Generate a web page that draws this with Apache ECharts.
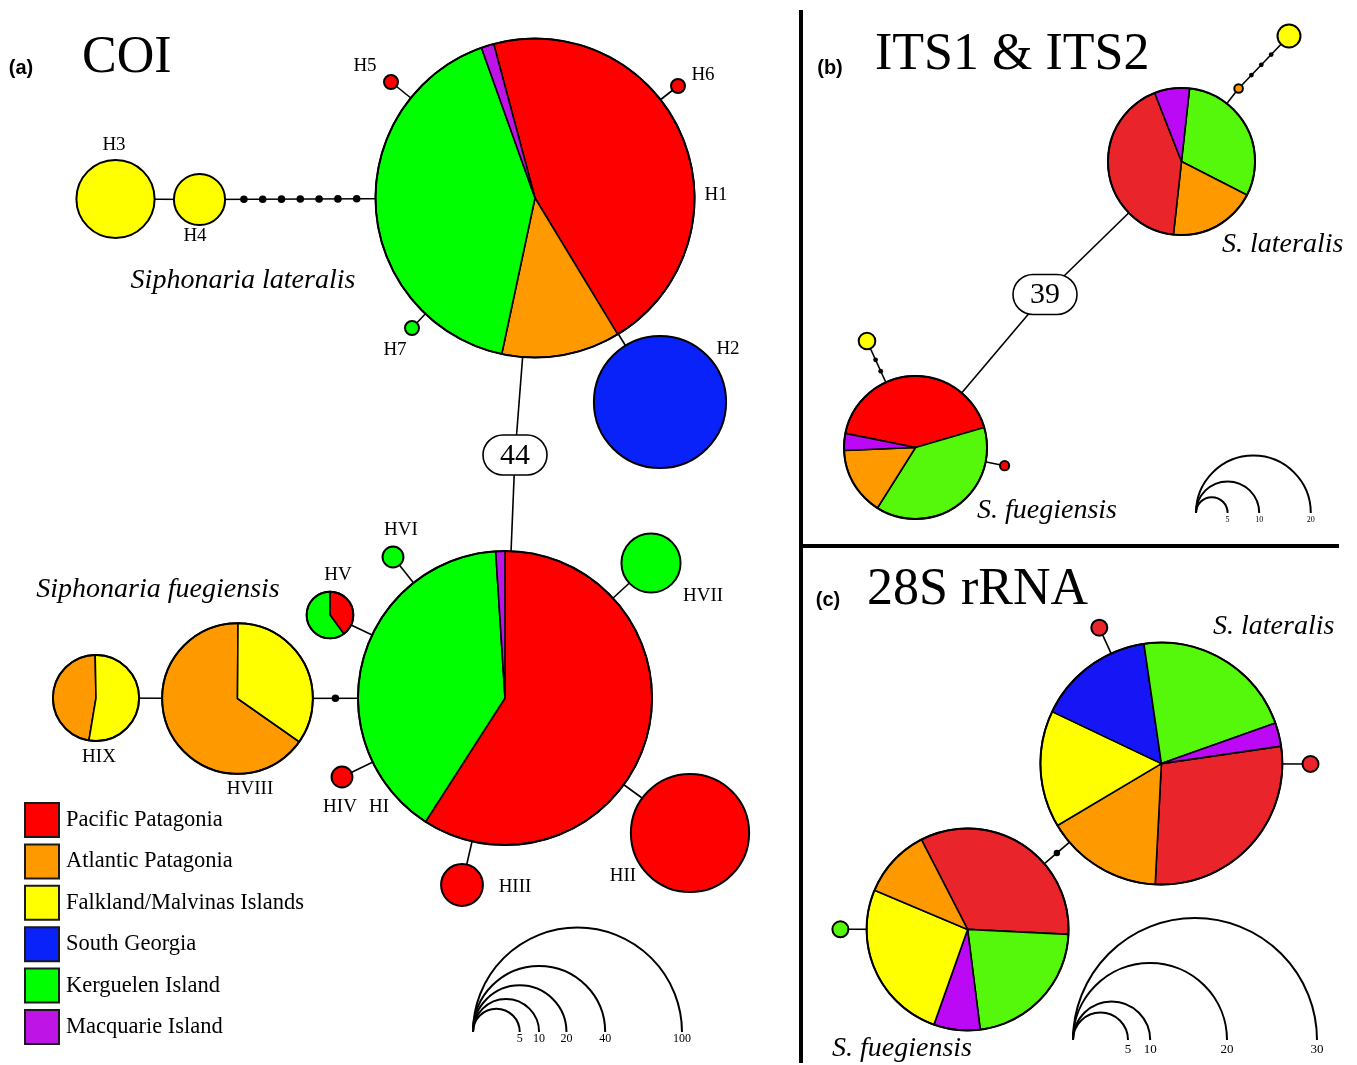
<!DOCTYPE html>
<html><head><meta charset="utf-8">
<script src="https://cdn.jsdelivr.net/npm/echarts@6/dist/echarts.min.js"></script>
<style>html,body{margin:0;padding:0;background:#fff}#chart{width:1357px;height:1065px}</style>
</head><body><div id="chart"></div>
<script>
// ---------- DATA ----------
const regions = ['Pacific Patagonia','Atlantic Patagonia','Falkland/Malvinas Islands','South Georgia','Kerguelen Island','Macquarie Island'];

// (a) COI haplotype counts per region
const coiHaplotypes   = ['H1','H2','H3','H4','H5','H6','H7','HI','HII','HIII','HIV','HV','HVI','HVII','HVIII','HIX'];
const coiPacific      = [106, 0, 0, 0, 1, 1, 0, 117, 32, 4, 1, 2, 0, 0,  0, 0];
const coiAtlantic     = [ 28, 0, 0, 0, 0, 0, 0,   0,  0, 0, 0, 0, 0, 0, 34, 8];
const coiFalkland     = [  0, 0,14, 6, 0, 0, 0,   0,  0, 0, 0, 0, 0, 0, 18, 9];
const coiSouthGeorgia = [  0,40, 0, 0, 0, 0, 0,   0,  0, 0, 0, 0, 0, 0,  0, 0];
const coiKerguelen    = [ 96, 0, 0, 0, 0, 0, 1,  79,  0, 0, 0, 3, 1, 8,  0, 0];
const coiMacquarie    = [  3, 0, 0, 0, 0, 0, 0,   2,  0, 0, 0, 0, 0, 0,  0, 0];
const coiLinks = [['H3','H4',1],['H4','H1',8],['H1','H5',1],['H1','H6',1],['H1','H7',1],['H1','H2',1],
                  ['H1','HI',44],['HI','HII',1],['HI','HIII',1],['HI','HIV',1],['HI','HV',1],['HI','HVI',1],
                  ['HI','HVII',1],['HI','HVIII',2],['HVIII','HIX',1]];
const coiScaleValues = [5,10,20,40,100];

// (b) ITS1 & ITS2
const itsHaplotypes   = ['L1','L2','L3','F1','F2','F3'];
const itsPacific      = [11,0,0,11,0,1];
const itsAtlantic     = [ 5,1,0, 4,0,0];
const itsFalkland     = [ 0,0,3, 0,2,0];
const itsSouthGeorgia = [ 0,0,0, 0,0,0];
const itsKerguelen    = [ 8,0,0,10,0,0];
const itsMacquarie    = [ 2,0,0, 1,0,0];
const itsLinks = [['L1','L2',1],['L2','L3',4],['L1','F1',39],['F1','F2',3],['F1','F3',1]];
const itsScaleValues = [5,10,20];

// (c) 28S rRNA
const rnaHaplotypes   = ['L1','L2','L3','F1','F2'];
const rnaPacific      = [9,1,1,9,0];
const rnaAtlantic     = [5,0,0,3,0];
const rnaFalkland     = [5,0,0,7,0];
const rnaSouthGeorgia = [5,0,0,0,0];
const rnaKerguelen    = [7,0,0,6,1];
const rnaMacquarie    = [1,0,0,2,0];
const rnaLinks = [['L1','L2',1],['L1','L3',1],['L1','F1',2],['F1','F2',1]];
const rnaScaleValues = [5,10,20,30];

// ---------- LAYOUT / STYLE ----------
const palA  = ['#FF0000','#FF9900','#FFFF00','#0A22FA','#00FF00','#BF14E6'];
const palBC = ['#E9252B','#FF9900','#FFFF00','#1515F5','#55F80A','#BB08F5'];
const palBCr = ['#FF0000','#FF9900','#FFFF00','#1515F5','#55F80A','#BB08F5'];
const kA = 10.45; // sqrt size scale of panel (a)

const layoutA = {
  nodes: {
    H1:{x:535,y:198,start:345}, H2:{x:660,y:402}, H3:{x:115.5,y:199}, H4:{x:199.5,y:199.5},
    H5:{x:391,y:82,r:7}, H6:{x:678,y:86,r:7}, H7:{x:412,y:328,r:7},
    HI:{x:505,y:698,start:0}, HII:{x:690,y:833}, HIII:{x:462,y:885}, HIV:{x:342,y:777},
    HV:{x:330,y:615,start:0}, HVI:{x:393,y:557}, HVII:{x:651,y:563},
    HVIII:{x:237.5,y:698.5,start:125}, HIX:{x:96,y:698,start:189.5}
  },
  boxes: {'H1-HI':[515,455]},
  labels: {H1:[716,195],H2:[728,349],H3:[114,145],H4:[195,236],H5:[365,66],H6:[703,75],H7:[395,350],
           HI:[379,807],HII:[623,876],HIII:[515,887],HIV:[340,807],HV:[338,575],HVI:[401,530],
           HVII:[703,596],HVIII:[250,789],HIX:[99,757]},
  dotR: 3.8,
  scale: {x:473, y:1032, radii: coiScaleValues.map(v => kA*Math.sqrt(v)), font:12, dy:7}
};
const layoutB = {
  nodes: {
    L1:{x:1181.5,y:161.5,r:73.5,start:6.3,order:[4,1,0,5]},
    L2:{x:1238.6,y:88.5,r:4.3}, L3:{x:1289,y:36,r:11.5},
    F1:{x:915.5,y:447.5,r:71.5,start:281.4,order:[0,4,1,5],pal:palBCr},
    F2:{x:867,y:341,r:8.3}, F3:{x:1004.6,y:465.7,r:4.6,pal:palBCr}
  },
  boxes: {'L1-F1':[1045,294.5]},
  dotR: 2.4,
  scale: {x:1196, y:513, radii:[15.8,31.6,57.4], font:8, dy:7}
};
const layoutC = {
  nodes: {
    L1:{x:1161.4,y:763.6,r:121,start:81.7},
    L2:{x:1099.3,y:627.7,r:8}, L3:{x:1310.5,y:764,r:8},
    F1:{x:967.6,y:929.4,r:101,start:332.8,order:[0,4,5,2,1]},
    F2:{x:840.4,y:929.3,r:8}
  },
  boxes: {},
  dotR: 3.2,
  scale: {x:1073, y:1040, radii:[27.5,38.6,77,122], font:13, dy:10}
};

// ---------- BUILD ----------
function buildNodes(names, cols, layout, palette, radiusOf) {
  return names.map((name, i) => {
    const L = layout.nodes[name];
    const counts = cols.map(c => c[i]);
    const total = counts.reduce((a, b) => a + b, 0);
    const order = L.order || [0,1,2,3,4,5];
    const slices = order.filter(k => counts[k] > 0).map(k => ({k, v: counts[k]}));
    return {name, x:L.x, y:L.y, r: L.r != null ? L.r : radiusOf(total), start: L.start || 0,
            slices, total, pal: L.pal || palette};
  });
}
const segs = [], dots = [], boxes = [];
function buildLinks(links, nodes, layout) {
  const by = Object.fromEntries(nodes.map(n => [n.name, n]));
  for (const [a, b, steps] of links) {
    const A = by[a], B = by[b], box = layout.boxes[a + '-' + b];
    if (box) {
      segs.push([A.x, A.y, box[0], box[1]], [box[0], box[1], B.x, B.y]);
      boxes.push([box[0], box[1], steps]);
    } else {
      segs.push([A.x, A.y, B.x, B.y]);
      const dx = B.x - A.x, dy = B.y - A.y, d = Math.hypot(dx, dy);
      const s0 = A.r, s1 = d - B.r;
      for (let j = 1; j < steps; j++) {
        const s = s0 + (s1 - s0) * j / steps;
        dots.push([A.x + dx * s / d, A.y + dy * s / d, layout.dotR]);
      }
    }
  }
}
const nodesA = buildNodes(coiHaplotypes, [coiPacific,coiAtlantic,coiFalkland,coiSouthGeorgia,coiKerguelen,coiMacquarie], layoutA, palA, n => kA*Math.sqrt(n));
const nodesB = buildNodes(itsHaplotypes, [itsPacific,itsAtlantic,itsFalkland,itsSouthGeorgia,itsKerguelen,itsMacquarie], layoutB, palBC);
const nodesC = buildNodes(rnaHaplotypes, [rnaPacific,rnaAtlantic,rnaFalkland,rnaSouthGeorgia,rnaKerguelen,rnaMacquarie], layoutC, palBC);
buildLinks(coiLinks, nodesA, layoutA);
buildLinks(itsLinks, nodesB, layoutB);
buildLinks(rnaLinks, nodesC, layoutC);
const allNodes = nodesA.concat(nodesB, nodesC);

const nodeLabels = coiHaplotypes.map(h => [layoutA.labels[h][0], layoutA.labels[h][1]]);
const scaleItems = [];
[[coiScaleValues, layoutA.scale],[itsScaleValues, layoutB.scale],[rnaScaleValues, layoutC.scale]].forEach(([vals, s]) => {
  vals.forEach((v, i) => scaleItems.push({x:s.x, y:s.y, r:s.radii[i], v, font:s.font, dy:s.dy}));
});

const SERIF = 'Liberation Serif';
const deg = a => (a - 90) * Math.PI / 180;

const chart = echarts.init(document.getElementById('chart'), null, {renderer:'canvas'});
const option = {
  animation: false,
  backgroundColor: '#fff',
  grid: {left:0, right:0, top:0, bottom:0, show:false},
  xAxis: {type:'value', min:0, max:1357, show:false},
  yAxis: {type:'value', min:0, max:1065, inverse:true, show:false},
  legend: {
    orient:'vertical', left:24, top:802, padding:0, itemWidth:34, itemHeight:34, itemGap:5.4,
    icon:'rect', selectedMode:false,
    itemStyle:{borderColor:'#1a1a1a', borderWidth:2},
    textStyle:{fontFamily:SERIF, fontSize:22.5, color:'#000', padding:[0,0,0,2]},
    data: regions
  },
  graphic: {elements: [
    {type:'line', shape:{x1:801,y1:10,x2:801,y2:1063}, style:{stroke:'#000', lineWidth:4}},
    {type:'line', shape:{x1:801,y1:546,x2:1339,y2:546}, style:{stroke:'#000', lineWidth:4}},
    ...[
      ['(a)', 21, 68, 20, 'bold', 'normal', 'Liberation Sans', 'center'],
      ['COI', 82, 58, 52, 'normal', 'normal', SERIF, 'left'],
      ['(b)', 830, 68, 20, 'bold', 'normal', 'Liberation Sans', 'center'],
      ['ITS1 & ITS2', 875, 55, 52, 'normal', 'normal', SERIF, 'left'],
      ['(c)', 828, 600, 20, 'bold', 'normal', 'Liberation Sans', 'center'],
      ['28S rRNA', 867, 590, 52, 'normal', 'normal', SERIF, 'left'],
      ['Siphonaria lateralis', 243, 281, 28, 'normal', 'italic', SERIF, 'center'],
      ['Siphonaria fuegiensis', 158, 590, 28, 'normal', 'italic', SERIF, 'center'],
      ['S. lateralis', 1222, 245, 28, 'normal', 'italic', SERIF, 'left'],
      ['S. fuegiensis', 977, 511, 28, 'normal', 'italic', SERIF, 'left'],
      ['S. lateralis', 1213, 627, 28, 'normal', 'italic', SERIF, 'left'],
      ['S. fuegiensis', 832, 1049, 28, 'normal', 'italic', SERIF, 'left']
    ].map(([t, x, y, fs, fw, fst, ff, al]) => ({
      type:'text', x, y, z:20,
      style:{text:t, fontSize:fs, fontWeight:fw, fontStyle:fst, fontFamily:ff, fill:'#000',
             align:al, verticalAlign:'middle', textAlign:al, textVerticalAlign:'middle'}
    }))
  ]},
  series: [
    // links
    {type:'custom', name:'links', z:1, clip:false, data: segs, encode:{x:[0,2], y:[1,3]},
     renderItem: (p, api) => {
       const a = api.coord([api.value(0), api.value(1)]), b = api.coord([api.value(2), api.value(3)]);
       return {type:'line', shape:{x1:a[0], y1:a[1], x2:b[0], y2:b[1]}, style:{stroke:'#000', lineWidth:1.6}};
     }},
    // pie nodes
    {type:'custom', name:'nodes', z:2, clip:false, data: allNodes.map(n => [n.x, n.y]), encode:{x:0, y:1},
     renderItem: (p, api) => {
       const n = allNodes[p.dataIndex];
       const c = api.coord([api.value(0), api.value(1)]);
       const r = api.size([n.r, 0])[0];
       const ch = [];
       if (n.slices.length === 1) {
         ch.push({type:'circle', shape:{cx:c[0], cy:c[1], r}, style:{fill:n.pal[n.slices[0].k], stroke:'#000', lineWidth:2}});
       } else {
         let a = n.start;
         n.slices.forEach(s => {
           const sw = 360 * s.v / n.total;
           ch.push({type:'sector', shape:{cx:c[0], cy:c[1], r, r0:0, startAngle:deg(a), endAngle:deg(a + sw), clockwise:true},
                    style:{fill:n.pal[s.k], stroke:'#000', lineWidth:1.6, lineJoin:'round'}});
           a += sw;
         });
         ch.push({type:'circle', shape:{cx:c[0], cy:c[1], r}, style:{fill:'none', stroke:'#000', lineWidth:2}});
       }
       return {type:'group', children:ch};
     }},
    // mutation step dots
    {type:'custom', name:'dots', z:3, clip:false, data: dots, encode:{x:0, y:1},
     renderItem: (p, api) => {
       const c = api.coord([api.value(0), api.value(1)]);
       return {type:'circle', shape:{cx:c[0], cy:c[1], r:api.size([api.value(2), 0])[0]}, style:{fill:'#000'}};
     }},
    // step-count boxes
    {type:'custom', name:'boxes', z:4, clip:false, data: boxes, encode:{x:0, y:1},
     renderItem: (p, api) => {
       const c = api.coord([api.value(0), api.value(1)]);
       return {type:'group', children:[
         {type:'rect', shape:{x:c[0]-32, y:c[1]-20, width:64, height:40, r:20}, style:{fill:'#fff', stroke:'#000', lineWidth:1.6}},
         {type:'text', style:{text:String(api.value(2)), x:c[0], y:c[1]+1, align:'center', verticalAlign:'middle',
                              fontSize:30, fontFamily:SERIF, fill:'#000'}}
       ]};
     }},
    // haplotype labels
    {type:'custom', name:'labels', z:5, clip:false, data: nodeLabels, encode:{x:0, y:1},
     renderItem: (p, api) => {
       const c = api.coord([api.value(0), api.value(1)]);
       return {type:'text', style:{text:coiHaplotypes[p.dataIndex], x:c[0], y:c[1], align:'center', verticalAlign:'middle',
                                   fontSize:19, fontFamily:SERIF, fill:'#000'}};
     }},
    // size scale arcs
    {type:'custom', name:'scales', z:5, clip:false, data: scaleItems.map(s => [s.x, s.y]), encode:{x:0, y:1},
     renderItem: (p, api) => {
       const s = scaleItems[p.dataIndex];
       const c = api.coord([api.value(0), api.value(1)]);
       const r = api.size([s.r, 0])[0];
       return {type:'group', children:[
         {type:'arc', shape:{cx:c[0]+r, cy:c[1], r, startAngle:Math.PI, endAngle:2*Math.PI, clockwise:true},
          style:{stroke:'#000', lineWidth:2, fill:'none'}},
         {type:'text', style:{text:String(s.v), x:c[0]+2*r, y:c[1]+s.dy, align:'center', verticalAlign:'middle',
                              fontSize:s.font, fontFamily:SERIF, fill:'#000'}}
       ]};
     }},
    // legend entries
    ...regions.map((name, i) => ({type:'custom', name, data:[], itemStyle:{color:palA[i]}, renderItem:() => null}))
  ]
};
chart.setOption(option);
</script>
</body></html>
